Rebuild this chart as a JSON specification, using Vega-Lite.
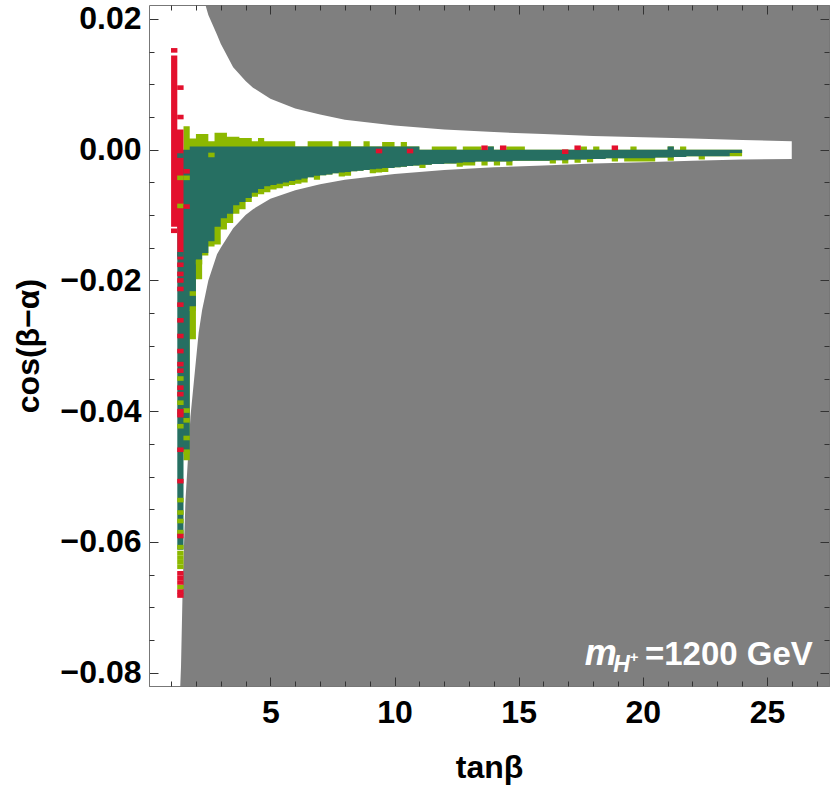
{
  "$schema": "https://vega.github.io/schema/vega-lite/v6.json",
  "width": 680,
  "height": 681,
  "autosize": "none",
  "padding": {"left": 149, "top": 5, "right": 1, "bottom": 101},
  "background": "white",
  "config": {
    "font": "Liberation Sans",
    "view": {"fill": "#7f7f7f", "stroke": "#777777", "strokeWidth": 1}
  },
  "datasets": {
    "wedge": [
      {"tb": 0.0, "lo": -0.09, "hi": 0.03},
      {"tb": 1.30, "lo": -0.09, "hi": 0.03},
      {"tb": 1.37, "lo": -0.0820, "hi": 0.03},
      {"tb": 1.40, "lo": -0.0790, "hi": 0.03},
      {"tb": 1.47, "lo": -0.0663, "hi": 0.03},
      {"tb": 1.58, "lo": -0.0536, "hi": 0.03},
      {"tb": 1.78, "lo": -0.0408, "hi": 0.03},
      {"tb": 2.11, "lo": -0.0280, "hi": 0.03},
      {"tb": 2.25, "lo": -0.0245, "hi": 0.03},
      {"tb": 2.38, "lo": -0.0222, "hi": 0.0222},
      {"tb": 2.5, "lo": -0.0200, "hi": 0.0206},
      {"tb": 2.85, "lo": -0.0160, "hi": 0.0176},
      {"tb": 3.0, "lo": -0.0150, "hi": 0.0162},
      {"tb": 3.5, "lo": -0.0120, "hi": 0.0126},
      {"tb": 4.0, "lo": -0.0100, "hi": 0.0105},
      {"tb": 4.3, "lo": -0.0091, "hi": 0.0095},
      {"tb": 5.0, "lo": -0.0075, "hi": 0.0078},
      {"tb": 6.0, "lo": -0.0062, "hi": 0.0063},
      {"tb": 7.0, "lo": -0.0053, "hi": 0.0054},
      {"tb": 8.0, "lo": -0.0046, "hi": 0.0046},
      {"tb": 10.0, "lo": -0.0037, "hi": 0.0037},
      {"tb": 12.0, "lo": -0.0031, "hi": 0.0031},
      {"tb": 14.0, "lo": -0.0027, "hi": 0.0027},
      {"tb": 16.0, "lo": -0.0024, "hi": 0.0024},
      {"tb": 18.0, "lo": -0.0021, "hi": 0.0021},
      {"tb": 20.0, "lo": -0.0019, "hi": 0.0019},
      {"tb": 22.0, "lo": -0.0017, "hi": 0.0017},
      {"tb": 24.0, "lo": -0.0015, "hi": 0.0015},
      {"tb": 26.0, "lo": -0.0014, "hi": 0.0013}
    ],
    "lime_band": [
      {"tb": 1.50, "hi": 0.0036, "lo": -0.0475},
      {"tb": 1.75, "hi": 0.0017, "lo": -0.0290},
      {"tb": 2.00, "hi": 0.0024, "lo": -0.0198},
      {"tb": 2.25, "hi": 0.0024, "lo": -0.0162},
      {"tb": 2.50, "hi": 0.0013, "lo": -0.0148},
      {"tb": 2.75, "hi": 0.0026, "lo": -0.0145},
      {"tb": 3.00, "hi": 0.0026, "lo": -0.0122},
      {"tb": 3.25, "hi": 0.0020, "lo": -0.0112},
      {"tb": 3.50, "hi": 0.0020, "lo": -0.0098},
      {"tb": 3.75, "hi": 0.0018, "lo": -0.0091},
      {"tb": 4.00, "hi": 0.0018, "lo": -0.0080},
      {"tb": 4.25, "hi": 0.0013, "lo": -0.0072},
      {"tb": 4.50, "hi": 0.0018, "lo": -0.0068},
      {"tb": 4.75, "hi": 0.0013, "lo": -0.0065},
      {"tb": 5.00, "hi": 0.0013, "lo": -0.0061},
      {"tb": 5.25, "hi": 0.0013, "lo": -0.0059},
      {"tb": 5.50, "hi": 0.0013, "lo": -0.0056},
      {"tb": 5.75, "hi": 0.0013, "lo": -0.0054},
      {"tb": 6.00, "hi": 0.0005, "lo": -0.0052},
      {"tb": 6.25, "hi": 0.0005, "lo": -0.0050},
      {"tb": 6.50, "hi": 0.0013, "lo": -0.0042},
      {"tb": 6.75, "hi": 0.0013, "lo": -0.0046},
      {"tb": 7.00, "hi": 0.0013, "lo": -0.0039},
      {"tb": 7.25, "hi": 0.0013, "lo": -0.0038},
      {"tb": 7.50, "hi": 0.0005, "lo": -0.0036},
      {"tb": 7.75, "hi": 0.0013, "lo": -0.0041},
      {"tb": 8.00, "hi": 0.0013, "lo": -0.0040},
      {"tb": 8.25, "hi": 0.0005, "lo": -0.0033},
      {"tb": 8.50, "hi": 0.0005, "lo": -0.0032},
      {"tb": 8.75, "hi": 0.0013, "lo": -0.0031},
      {"tb": 9.00, "hi": 0.0005, "lo": -0.0036},
      {"tb": 9.25, "hi": 0.0005, "lo": -0.0035},
      {"tb": 9.50, "hi": 0.0012, "lo": -0.0034},
      {"tb": 9.75, "hi": 0.0012, "lo": -0.0028},
      {"tb": 10.00, "hi": 0.0005, "lo": -0.0027},
      {"tb": 10.25, "hi": 0.0012, "lo": -0.0026},
      {"tb": 10.50, "hi": 0.0005, "lo": -0.0025},
      {"tb": 10.75, "hi": 0.0005, "lo": -0.0024},
      {"tb": 11.00, "hi": 0.0, "lo": -0.0028},
      {"tb": 11.25, "hi": 0.0, "lo": -0.0023},
      {"tb": 11.50, "hi": 0.0005, "lo": -0.0022},
      {"tb": 11.75, "hi": 0.0005, "lo": -0.0022},
      {"tb": 12.00, "hi": 0.0005, "lo": -0.0021},
      {"tb": 12.25, "hi": 0.0005, "lo": -0.0021},
      {"tb": 12.50, "hi": 0.0, "lo": -0.0026},
      {"tb": 12.75, "hi": 0.0005, "lo": -0.0024},
      {"tb": 13.00, "hi": 0.0005, "lo": -0.0024},
      {"tb": 13.25, "hi": 0.0005, "lo": -0.0018},
      {"tb": 13.50, "hi": 0.0, "lo": -0.0024},
      {"tb": 13.75, "hi": 0.0005, "lo": -0.0018},
      {"tb": 14.00, "hi": 0.0, "lo": -0.0024},
      {"tb": 14.25, "hi": 0.0, "lo": -0.0018},
      {"tb": 14.50, "hi": 0.0005, "lo": -0.0024},
      {"tb": 14.75, "hi": 0.0005, "lo": -0.0017},
      {"tb": 15.00, "hi": 0.0005, "lo": -0.0017},
      {"tb": 15.25, "hi": 0.0, "lo": -0.0017},
      {"tb": 15.50, "hi": 0.0, "lo": -0.0017},
      {"tb": 15.75, "hi": 0.0, "lo": -0.0017},
      {"tb": 16.00, "hi": 0.0, "lo": -0.0017},
      {"tb": 16.25, "hi": 0.0, "lo": -0.0021},
      {"tb": 16.50, "hi": 0.0, "lo": -0.0016},
      {"tb": 16.75, "hi": 0.0, "lo": -0.0021},
      {"tb": 17.00, "hi": 0.0, "lo": -0.0015},
      {"tb": 17.25, "hi": 0.0, "lo": -0.0020},
      {"tb": 17.50, "hi": 0.0005, "lo": -0.0015},
      {"tb": 17.75, "hi": 0.0, "lo": -0.0019},
      {"tb": 18.00, "hi": 0.0005, "lo": -0.0014},
      {"tb": 18.25, "hi": 0.0, "lo": -0.0014},
      {"tb": 18.50, "hi": 0.0, "lo": -0.0013},
      {"tb": 18.75, "hi": 0.0, "lo": -0.0018},
      {"tb": 19.00, "hi": 0.0, "lo": -0.0013},
      {"tb": 19.25, "hi": 0.0, "lo": -0.0018},
      {"tb": 19.50, "hi": 0.0005, "lo": -0.0018},
      {"tb": 19.75, "hi": 0.0, "lo": -0.0018},
      {"tb": 20.00, "hi": 0.0, "lo": -0.0018},
      {"tb": 20.25, "hi": 0.0, "lo": -0.0018},
      {"tb": 20.50, "hi": 0.0, "lo": -0.0012},
      {"tb": 20.75, "hi": 0.0, "lo": -0.0012},
      {"tb": 21.00, "hi": 0.0005, "lo": -0.0017},
      {"tb": 21.25, "hi": 0.0, "lo": -0.0011},
      {"tb": 21.50, "hi": 0.0005, "lo": -0.0011},
      {"tb": 21.75, "hi": 0.0, "lo": -0.0010},
      {"tb": 22.00, "hi": 0.0, "lo": -0.0010},
      {"tb": 22.25, "hi": 0.0, "lo": -0.0015},
      {"tb": 22.50, "hi": 0.0, "lo": -0.0010},
      {"tb": 22.75, "hi": 0.0, "lo": -0.0010},
      {"tb": 23.00, "hi": 0.0, "lo": -0.0010},
      {"tb": 23.25, "hi": 0.0, "lo": -0.0010},
      {"tb": 23.50, "hi": 0.0, "lo": -0.0010},
      {"tb": 23.75, "hi": 0.0, "lo": -0.0010},
      {"tb": 24.00, "hi": 0.0, "lo": -0.0010}
    ],
    "teal_band": [
      {"tb": 1.25, "hi": 0.0, "lo": -0.0612},
      {"tb": 1.50, "hi": 0.0, "lo": -0.0460},
      {"tb": 1.75, "hi": 0.0005, "lo": -0.0245},
      {"tb": 2.00, "hi": 0.0005, "lo": -0.0168},
      {"tb": 2.25, "hi": 0.0005, "lo": -0.0158},
      {"tb": 2.50, "hi": 0.0005, "lo": -0.0140},
      {"tb": 2.75, "hi": 0.0005, "lo": -0.0118},
      {"tb": 3.00, "hi": 0.0005, "lo": -0.0105},
      {"tb": 3.25, "hi": 0.0005, "lo": -0.0098},
      {"tb": 3.50, "hi": 0.0005, "lo": -0.0085},
      {"tb": 3.75, "hi": 0.0005, "lo": -0.0080},
      {"tb": 4.00, "hi": 0.0005, "lo": -0.0074},
      {"tb": 4.25, "hi": 0.0005, "lo": -0.0066},
      {"tb": 4.50, "hi": 0.0005, "lo": -0.0060},
      {"tb": 4.75, "hi": 0.0005, "lo": -0.0056},
      {"tb": 5.00, "hi": 0.0005, "lo": -0.0054},
      {"tb": 5.25, "hi": 0.0005, "lo": -0.0052},
      {"tb": 5.50, "hi": 0.0005, "lo": -0.0050},
      {"tb": 5.75, "hi": 0.0005, "lo": -0.0048},
      {"tb": 6.00, "hi": 0.0005, "lo": -0.0046},
      {"tb": 6.25, "hi": 0.0005, "lo": -0.0044},
      {"tb": 6.50, "hi": 0.0005, "lo": -0.0042},
      {"tb": 6.75, "hi": 0.0005, "lo": -0.0040},
      {"tb": 7.00, "hi": 0.0005, "lo": -0.0039},
      {"tb": 7.25, "hi": 0.0005, "lo": -0.0038},
      {"tb": 7.50, "hi": 0.0005, "lo": -0.0036},
      {"tb": 7.75, "hi": 0.0005, "lo": -0.0035},
      {"tb": 8.00, "hi": 0.0005, "lo": -0.0034},
      {"tb": 8.25, "hi": 0.0005, "lo": -0.0033},
      {"tb": 8.50, "hi": 0.0005, "lo": -0.0032},
      {"tb": 8.75, "hi": 0.0005, "lo": -0.0031},
      {"tb": 9.00, "hi": 0.0005, "lo": -0.0030},
      {"tb": 9.25, "hi": 0.0005, "lo": -0.0029},
      {"tb": 9.50, "hi": 0.0005, "lo": -0.0028},
      {"tb": 9.75, "hi": 0.0005, "lo": -0.0028},
      {"tb": 10.00, "hi": 0.0005, "lo": -0.0027},
      {"tb": 10.25, "hi": 0.0005, "lo": -0.0026},
      {"tb": 10.50, "hi": 0.0005, "lo": -0.0025},
      {"tb": 10.75, "hi": 0.0005, "lo": -0.0024},
      {"tb": 11.00, "hi": 0.0, "lo": -0.0023},
      {"tb": 11.25, "hi": 0.0, "lo": -0.0023},
      {"tb": 11.50, "hi": 0.0, "lo": -0.0022},
      {"tb": 11.75, "hi": 0.0, "lo": -0.0022},
      {"tb": 12.00, "hi": 0.0, "lo": -0.0021},
      {"tb": 12.25, "hi": 0.0, "lo": -0.0021},
      {"tb": 12.50, "hi": 0.0, "lo": -0.0020},
      {"tb": 12.75, "hi": 0.0, "lo": -0.0019},
      {"tb": 13.00, "hi": 0.0, "lo": -0.0019},
      {"tb": 13.25, "hi": 0.0, "lo": -0.0018},
      {"tb": 13.50, "hi": 0.0, "lo": -0.0018},
      {"tb": 13.75, "hi": 0.0005, "lo": -0.0018},
      {"tb": 14.00, "hi": 0.0, "lo": -0.0018},
      {"tb": 14.25, "hi": 0.0, "lo": -0.0018},
      {"tb": 14.50, "hi": 0.0, "lo": -0.0018},
      {"tb": 14.75, "hi": 0.0, "lo": -0.0017},
      {"tb": 15.00, "hi": 0.0, "lo": -0.0017},
      {"tb": 15.25, "hi": 0.0, "lo": -0.0017},
      {"tb": 15.50, "hi": 0.0, "lo": -0.0017},
      {"tb": 15.75, "hi": 0.0, "lo": -0.0017},
      {"tb": 16.00, "hi": 0.0, "lo": -0.0017},
      {"tb": 16.25, "hi": 0.0, "lo": -0.0016},
      {"tb": 16.50, "hi": 0.0, "lo": -0.0016},
      {"tb": 16.75, "hi": 0.0, "lo": -0.0016},
      {"tb": 17.00, "hi": 0.0, "lo": -0.0015},
      {"tb": 17.25, "hi": 0.0, "lo": -0.0015},
      {"tb": 17.50, "hi": 0.0, "lo": -0.0015},
      {"tb": 17.75, "hi": 0.0, "lo": -0.0014},
      {"tb": 18.00, "hi": 0.0, "lo": -0.0014},
      {"tb": 18.25, "hi": 0.0, "lo": -0.0014},
      {"tb": 18.50, "hi": 0.0, "lo": -0.0013},
      {"tb": 18.75, "hi": 0.0, "lo": -0.0013},
      {"tb": 19.00, "hi": 0.0, "lo": -0.0013},
      {"tb": 19.25, "hi": 0.0, "lo": -0.0013},
      {"tb": 19.50, "hi": 0.0, "lo": -0.0013},
      {"tb": 19.75, "hi": 0.0, "lo": -0.0013},
      {"tb": 20.00, "hi": 0.0, "lo": -0.0013},
      {"tb": 20.25, "hi": 0.0, "lo": -0.0013},
      {"tb": 20.50, "hi": 0.0, "lo": -0.0012},
      {"tb": 20.75, "hi": 0.0, "lo": -0.0012},
      {"tb": 21.00, "hi": 0.0005, "lo": -0.0012},
      {"tb": 21.25, "hi": 0.0, "lo": -0.0011},
      {"tb": 21.50, "hi": 0.0, "lo": -0.0011},
      {"tb": 21.75, "hi": 0.0, "lo": -0.0010},
      {"tb": 22.00, "hi": 0.0, "lo": -0.0010},
      {"tb": 22.25, "hi": 0.0, "lo": -0.0010},
      {"tb": 22.50, "hi": 0.0, "lo": -0.0010},
      {"tb": 22.75, "hi": 0.0, "lo": -0.0010},
      {"tb": 23.00, "hi": 0.0, "lo": -0.0010},
      {"tb": 23.25, "hi": 0.0, "lo": -0.0010},
      {"tb": 23.50, "hi": 0.0, "lo": -0.0005},
      {"tb": 23.75, "hi": 0.0, "lo": -0.0005},
      {"tb": 24.00, "hi": 0.0, "lo": -0.0005}
    ],
    "red_band": [
      {"tb": 1.00, "hi": 0.0144, "lo": -0.0118},
      {"tb": 1.25, "hi": 0.0031, "lo": -0.0168},
      {"tb": 1.50, "hi": 0.0031, "lo": -0.0168}
    ],
    "cells": [
      {"tb": 1.375, "cb": -0.0009, "cls": "teal"},
      {"tb": 1.375, "cb": -0.0160, "cls": "teal"},
      {"tb": 1.375, "cb": -0.0043, "cls": "lime"},
      {"tb": 1.625, "cb": -0.0043, "cls": "lime"},
      {"tb": 1.375, "cb": -0.0086, "cls": "lime"},
      {"tb": 1.375, "cb": -0.0350, "cls": "lime"},
      {"tb": 1.375, "cb": -0.0387, "cls": "lime"},
      {"tb": 1.375, "cb": -0.0423, "cls": "lime"},
      {"tb": 1.375, "cb": -0.0536, "cls": "lime"},
      {"tb": 1.375, "cb": -0.0555, "cls": "lime"},
      {"tb": 1.375, "cb": -0.0568, "cls": "lime"},
      {"tb": 1.375, "cb": -0.0585, "cls": "lime"},
      {"tb": 1.375, "cb": -0.0608, "cls": "lime"},
      {"tb": 1.375, "cb": -0.0617, "cls": "lime"},
      {"tb": 1.375, "cb": -0.0624, "cls": "lime"},
      {"tb": 1.375, "cb": -0.0631, "cls": "lime"},
      {"tb": 1.375, "cb": -0.0638, "cls": "lime"},
      {"tb": 1.375, "cb": -0.0669, "cls": "lime"},
      {"tb": 1.625, "cb": -0.0399, "cls": "lime"},
      {"tb": 1.625, "cb": -0.0414, "cls": "lime"},
      {"tb": 1.625, "cb": -0.0441, "cls": "lime"},
      {"tb": 1.625, "cb": -0.0462, "cls": "lime"},
      {"tb": 1.875, "cb": -0.0220, "cls": "lime"},
      {"tb": 1.875, "cb": -0.0243, "cls": "lime"},
      {"tb": 2.125, "cb": -0.0172, "cls": "lime"},
      {"tb": 2.625, "cb": -0.0008, "cls": "lime"},
      {"tb": 1.125, "cb": 0.0152, "cls": "red"},
      {"tb": 1.375, "cb": 0.0095, "cls": "red"},
      {"tb": 1.375, "cb": 0.0050, "cls": "red"},
      {"tb": 1.625, "cb": -0.0033, "cls": "red"},
      {"tb": 1.625, "cb": -0.0087, "cls": "red"},
      {"tb": 1.125, "cb": -0.0124, "cls": "red"},
      {"tb": 1.375, "cb": -0.0176, "cls": "red"},
      {"tb": 1.375, "cb": -0.0190, "cls": "red"},
      {"tb": 1.375, "cb": -0.0200, "cls": "red"},
      {"tb": 1.375, "cb": -0.0213, "cls": "red"},
      {"tb": 1.375, "cb": -0.0237, "cls": "red"},
      {"tb": 1.375, "cb": -0.0261, "cls": "red"},
      {"tb": 1.375, "cb": -0.0285, "cls": "red"},
      {"tb": 1.375, "cb": -0.0308, "cls": "red"},
      {"tb": 1.375, "cb": -0.0328, "cls": "red"},
      {"tb": 1.375, "cb": -0.0338, "cls": "red"},
      {"tb": 1.375, "cb": -0.0364, "cls": "red"},
      {"tb": 1.375, "cb": -0.0374, "cls": "red"},
      {"tb": 1.375, "cb": -0.0400, "cls": "red"},
      {"tb": 1.375, "cb": -0.0406, "cls": "red"},
      {"tb": 1.375, "cb": -0.0459, "cls": "red"},
      {"tb": 1.375, "cb": -0.0507, "cls": "red"},
      {"tb": 1.375, "cb": -0.0591, "cls": "red"},
      {"tb": 1.375, "cb": -0.0648, "cls": "red"},
      {"tb": 1.375, "cb": -0.0655, "cls": "red"},
      {"tb": 1.375, "cb": -0.0662, "cls": "red"},
      {"tb": 1.375, "cb": -0.0676, "cls": "red"},
      {"tb": 1.375, "cb": -0.0682, "cls": "red"},
      {"tb": 9.375, "cb": -0.0002, "cls": "red"},
      {"tb": 10.625, "cb": -0.0002, "cls": "red"},
      {"tb": 13.625, "cb": 0.0003, "cls": "red"},
      {"tb": 14.375, "cb": 0.0003, "cls": "red"},
      {"tb": 16.875, "cb": -0.0003, "cls": "red"},
      {"tb": 17.375, "cb": 0.0003, "cls": "red"},
      {"tb": 18.875, "cb": 0.0003, "cls": "red"}
    ],
    "labels": [
      {"txt": "=1200 GeV", "tb": 26.85, "cb": -0.0788}
    ]
  },
  "layer": [
    {
      "data": {"name": "wedge"},
      "mark": {"type": "area", "color": "white", "clip": true, "interpolate": "linear"},
      "encoding": {
        "x": {"field": "tb", "type": "quantitative",
          "scale": {"domain": [0.11, 27.5], "nice": false, "zero": false},
          "axis": {"orient": "bottom", "values": [5, 10, 15, 20, 25],
            "format": "d", "zindex": 2,
            "labelFontSize": 32, "labelFontWeight": "bold", "labelColor": "black",
            "labelPadding": 20, "labelOverlap": false, "labelFlush": false,
            "tickSize": -9, "tickColor": "#333333", "domain": true, "domainColor": "#777777", "grid": false,
            "title": "tanβ", "titleFontSize": 32, "titleFontWeight": "bold", "titleColor": "black", "titlePadding": 24}},
        "y": {"field": "lo", "type": "quantitative",
          "scale": {"domain": [-0.08204, 0.02214], "nice": false, "zero": false},
          "axis": {"orient": "left", "values": [-0.08, -0.06, -0.04, -0.02, 0, 0.02],
            "format": ".2f", "zindex": 2,
            "labelFontSize": 32, "labelFontWeight": "bold", "labelColor": "black",
            "labelPadding": 17, "labelOverlap": false, "labelFlush": false,
            "tickSize": -9, "tickColor": "#333333", "domain": true, "domainColor": "#777777", "grid": false,
            "title": "cos(β−α)", "titleFontSize": 32, "titleFontWeight": "bold", "titleColor": "black", "titlePadding": 15}},
        "y2": {"field": "hi"}
      }
    },
    {
      "data": {"name": "lime_band"},
      "mark": {"type": "area", "color": "#8cb800", "interpolate": "step-after", "clip": true},
      "encoding": {
        "x": {"field": "tb", "type": "quantitative", "scale": {"domain": [0.11, 27.5], "nice": false, "zero": false}, "axis": null},
        "y": {"field": "lo", "type": "quantitative", "scale": {"domain": [-0.08204, 0.02214], "nice": false, "zero": false}, "axis": null},
        "y2": {"field": "hi"}
      }
    },
    {
      "data": {"name": "teal_band"},
      "mark": {"type": "area", "color": "#266f62", "interpolate": "step-after", "clip": true},
      "encoding": {
        "x": {"field": "tb", "type": "quantitative", "scale": {"domain": [0.11, 27.5], "nice": false, "zero": false}, "axis": null},
        "y": {"field": "lo", "type": "quantitative", "scale": {"domain": [-0.08204, 0.02214], "nice": false, "zero": false}, "axis": null},
        "y2": {"field": "hi"}
      }
    },
    {
      "data": {"name": "red_band"},
      "mark": {"type": "area", "color": "#e3102d", "interpolate": "step-after", "clip": true},
      "encoding": {
        "x": {"field": "tb", "type": "quantitative", "scale": {"domain": [0.11, 27.5], "nice": false, "zero": false}, "axis": null},
        "y": {"field": "lo", "type": "quantitative", "scale": {"domain": [-0.08204, 0.02214], "nice": false, "zero": false}, "axis": null},
        "y2": {"field": "hi"}
      }
    },
    {
      "data": {"name": "cells"},
      "mark": {"type": "point", "shape": "M-1,-0.72H1V0.72H-1Z", "filled": true, "size": 41, "opacity": 1, "strokeWidth": 0, "clip": true},
      "encoding": {
        "x": {"field": "tb", "type": "quantitative", "scale": {"domain": [0.11, 27.5], "nice": false, "zero": false}, "axis": null},
        "y": {"field": "cb", "type": "quantitative", "scale": {"domain": [-0.08204, 0.02214], "nice": false, "zero": false}, "axis": null},
        "color": {"field": "cls", "type": "nominal", "scale": {"domain": ["teal", "lime", "red"], "range": ["#266f62", "#8cb800", "#e3102d"]}, "legend": null}
      }
    },
    {
      "data": {"name": "labels"},
      "mark": {"type": "text", "align": "right", "baseline": "alphabetic", "fontSize": 33, "fontWeight": "bold", "color": "white"},
      "encoding": {
        "x": {"field": "tb", "type": "quantitative", "scale": {"domain": [0.11, 27.5], "nice": false, "zero": false}, "axis": null},
        "y": {"field": "cb", "type": "quantitative", "scale": {"domain": [-0.08204, 0.02214], "nice": false, "zero": false}, "axis": null},
        "text": {"field": "txt"}
      }
    },
    {
      "data": {"name": "labels"},
      "mark": {"type": "text", "align": "right", "baseline": "alphabetic", "fontSize": 36, "fontWeight": "bold", "fontStyle": "italic", "color": "white", "dx": -196, "text": "m"},
      "encoding": {
        "x": {"field": "tb", "type": "quantitative", "scale": {"domain": [0.11, 27.5], "nice": false, "zero": false}, "axis": null},
        "y": {"field": "cb", "type": "quantitative", "scale": {"domain": [-0.08204, 0.02214], "nice": false, "zero": false}, "axis": null}
      }
    },
    {
      "data": {"name": "labels"},
      "mark": {"type": "text", "align": "right", "baseline": "alphabetic", "fontSize": 23, "fontWeight": "bold", "fontStyle": "italic", "color": "white", "dx": -183, "dy": 7, "text": "H"},
      "encoding": {
        "x": {"field": "tb", "type": "quantitative", "scale": {"domain": [0.11, 27.5], "nice": false, "zero": false}, "axis": null},
        "y": {"field": "cb", "type": "quantitative", "scale": {"domain": [-0.08204, 0.02214], "nice": false, "zero": false}, "axis": null}
      }
    },
    {
      "data": {"name": "labels"},
      "mark": {"type": "text", "align": "left", "baseline": "alphabetic", "fontSize": 15, "fontWeight": "bold", "color": "white", "dx": -183, "dy": -3, "text": "+"},
      "encoding": {
        "x": {"field": "tb", "type": "quantitative", "scale": {"domain": [0.11, 27.5], "nice": false, "zero": false}, "axis": null},
        "y": {"field": "cb", "type": "quantitative", "scale": {"domain": [-0.08204, 0.02214], "nice": false, "zero": false}, "axis": null}
      }
    },
    {
      "data": {"name": "wedge"},
      "mark": {"type": "point", "opacity": 0},
      "encoding": {
        "x": {"field": "tb", "type": "quantitative", "scale": {"domain": [0.11, 27.5], "nice": false, "zero": false},
          "axis": {"orient": "top", "values": [5, 10, 15, 20, 25], "zindex": 2,
            "labels": false, "title": null, "domain": true, "domainColor": "#777777", "grid": false, "tickColor": "#333333", "tickSize": -9}},
        "y": {"field": "lo", "type": "quantitative", "scale": {"domain": [-0.08204, 0.02214], "nice": false, "zero": false},
          "axis": {"orient": "right", "values": [-0.08, -0.06, -0.04, -0.02, 0, 0.02], "zindex": 2,
            "labels": false, "title": null, "domain": true, "domainColor": "#777777", "grid": false, "tickColor": "#333333", "tickSize": -9}}
      }
    },
    {
      "data": {"name": "wedge"},
      "mark": {"type": "point", "opacity": 0},
      "encoding": {
        "x": {"field": "tb", "type": "quantitative", "scale": {"domain": [0.11, 27.5], "nice": false, "zero": false},
          "axis": {"orient": "bottom", "values": [1,2,3,4,6,7,8,9,11,12,13,14,16,17,18,19,21,22,23,24,26,27], "zindex": 2,
            "labels": false, "title": null, "domain": false, "grid": false, "tickColor": "#333333", "tickSize": -5}},
        "y": {"field": "lo", "type": "quantitative", "scale": {"domain": [-0.08204, 0.02214], "nice": false, "zero": false},
          "axis": {"orient": "left", "values": [-0.075,-0.07,-0.065,-0.055,-0.05,-0.045,-0.035,-0.03,-0.025,-0.015,-0.01,-0.005,0.005,0.01,0.015], "zindex": 2,
            "labels": false, "title": null, "domain": false, "grid": false, "tickColor": "#333333", "tickSize": -5}}
      }
    },
    {
      "data": {"name": "wedge"},
      "mark": {"type": "point", "opacity": 0},
      "encoding": {
        "x": {"field": "tb", "type": "quantitative", "scale": {"domain": [0.11, 27.5], "nice": false, "zero": false},
          "axis": {"orient": "top", "values": [1,2,3,4,6,7,8,9,11,12,13,14,16,17,18,19,21,22,23,24,26,27], "zindex": 2,
            "labels": false, "title": null, "domain": false, "grid": false, "tickColor": "#333333", "tickSize": -5}},
        "y": {"field": "lo", "type": "quantitative", "scale": {"domain": [-0.08204, 0.02214], "nice": false, "zero": false},
          "axis": {"orient": "right", "values": [-0.075,-0.07,-0.065,-0.055,-0.05,-0.045,-0.035,-0.03,-0.025,-0.015,-0.01,-0.005,0.005,0.01,0.015], "zindex": 2,
            "labels": false, "title": null, "domain": false, "grid": false, "tickColor": "#333333", "tickSize": -5}}
      }
    }
  ],
  "resolve": {"axis": {"x": "independent", "y": "independent"}}
}
